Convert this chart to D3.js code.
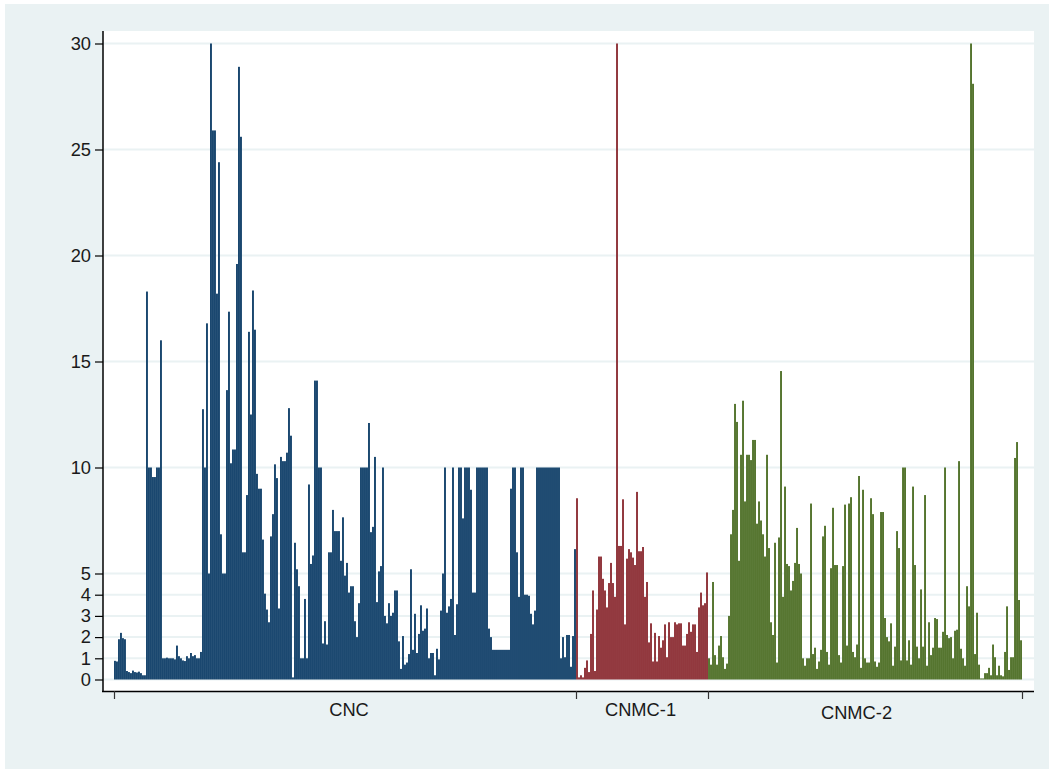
<!DOCTYPE html>
<html><head><meta charset="utf-8">
<script src="https://cdn.jsdelivr.net/npm/d3@7/dist/d3.min.js"></script>
<style>html,body{margin:0;padding:0;background:#fff}svg{display:block}text{font-family:"Liberation Sans",Arial,sans-serif;fill:#1a1a1a}</style>
</head><body><div id="c"></div>
<script>
const yTicks=[0,1,2,3,4,5,10,15,20,25,30];
const groupNames=["CNC","CNMC-1","CNMC-2"];
const cnc=[.88,.85,1.9,2.2,1.95,1.9,.4,.35,.3,.42,.35,.33,.37,.3,.2,.2,18.3,10,10,9.55,9.55,10,10,16,1,1,1.03,1,1,1,.95,1.6,1.1,1,.9,.87,1.1,1,1.25,1.1,1.15,1,1,1.3,12.75,10,16.8,5,30,25.9,25.9,18.2,24.4,6.85,5,5,13.65,17.35,10.2,10.85,10.85,19.6,28.9,25.6,6,6,8.7,16.4,12.5,18.35,16.5,9.7,9,9,6.6,4.05,3.3,2.7,
6.75,7.8,10.15,9.5,3.35,10.5,10.3,10.3,10.7,12.8,11.5,.1,6.45,5.2,4.4,1,1,3.8,1,9.2,5.45,5.85,14.1,14.1,10,10,1.7,2.75,1.65,6,6,8,7,7,7,5.6,7.65,4.9,5.5,4.1,4.4,4.4,2.75,2,3.6,10,10,10,10,12.1,6.95,7.2,10.5,3.65,5.1,5.35,10,3,2.65,3.6,3,3.15,4.2,4.2,1.8,.5,2.05,.7,.8,1.2,5.2,1.4,3.1,1.25,2.15,3.5,2.3,2.4,3.35,1,1.25,1.25,.2,
1.45,.95,3.25,5,10,3.15,3.45,3.8,10,2.1,3.55,10,10,7.6,10,10,10,8.95,4.1,4.1,10,10,10,10,10,10,2.4,2,1.4,1.4,1.4,1.4,1.4,1.4,1.4,1.4,1.4,9,10,10,6,3.9,10,10,4,4,3.95,3.1,2.6,3.25,10,10,10,10,10,10,10,10,10,10,10,10,1,2,1.05,2.1,2.1,.6,2.05,6.15];
const cnmc1=[8.55,.1,.2,.1,.55,.9,.35,2.15,4.2,.4,3.3,5.8,5.8,4.75,4.2,3.4,4.55,5.5,4.55,3.9,30,6.3,6.3,8.5,2.6,5.7,6.15,6,5.75,5.4,8.85,6.05,6.05,6.25,3.9,4.6,1.75,2.65,.85,2.2,.85,2.05,1.5,1.85,2.6,1.05,2.7,2,2,2.7,2.6,2.65,2.65,1.6,1.6,2.15,2.7,2.25,2.6,2.6,1.3,3.4,4.1,3.5,3.6,5.05];
const cnmc2=[1,.7,4.6,1.15,.7,1.6,2.05,1.05,.5,.75,3,6.85,8,13,12.15,5.6,10.6,13.15,8.4,10.6,10.6,10.35,11.3,11.3,7.35,8.4,7.5,6.85,5.8,10.6,6.2,2.7,2.1,6.45,.8,6.7,14.55,3.9,9.1,5.45,5.35,4.2,4.65,5.5,7.15,5.45,5,1,.65,1,1,8.3,1.2,1.5,.5,.85,1.4,6.75,7.25,1.3,.7,5.25,8.1,5.4,5.4,1.15,.8,5.35,8.25,1.6,8.3,8.6,1.3,1.05,1.65,9.6,.55,8.95,1,.8,.8,8.55,7.8,.85,
.6,.8,7.9,7.9,2.9,2,1.8,2.65,.65,1.55,7,6.2,.9,10,10,.9,1.85,.7,9.1,5.4,1.55,1,4.25,1.55,8.7,.65,2.7,1.15,1.5,2.9,2.85,1.5,1.5,2.25,10,2.1,1.95,2,1,2.3,2.35,10.3,1.45,1,.65,4.4,3.45,30,28.1,1.2,3.15,.7,.05,.05,.3,.3,.55,.2,1.65,1.05,.2,.65,.2,.15,1.3,3.45,.45,1.05,1.05,10.45,11.2,3.75,1.85];
const seriesColors=["#1a476f","#90353b","#55752f"];
const W=1049,H=769;
const svg=d3.select("#c").append("svg").attr("width",W).attr("height",H);
svg.append("rect").attr("x",5).attr("y",4).attr("width",W-5).attr("height",H-4).attr("fill","#eaf2f3");
svg.append("rect").attr("x",103).attr("y",31).attr("width",931).attr("height",660).attr("fill","#fff");
const all=[cnc,cnmc1,cnmc2];
const flat=all.flatMap((a,g)=>a.map(v=>({v,g})));
flat.forEach((d,i)=>d.i=i);
const x=d3.scaleBand().domain(d3.range(flat.length)).range([114,114+2*flat.length]).paddingInner(0.03).paddingOuter(0);
const y=d3.scaleLinear().domain([0,30]).range([679.5,43.5]);
svg.append("g").selectAll("line").data(yTicks).join("line")
 .attr("x1",103).attr("x2",1034).attr("y1",d=>y(d)).attr("y2",d=>y(d)).attr("stroke","#eaf2f3").attr("stroke-width",2);
svg.append("g").selectAll("rect").data(flat).join("rect")
 .attr("x",d=>x(d.i)).attr("width",x.bandwidth()).attr("y",d=>y(d.v)).attr("height",d=>y(0)-y(d.v)).attr("fill",d=>seriesColors[d.g]);
const yAxis=d3.axisLeft(y).tickValues(yTicks).tickFormat(d3.format("d")).tickSize(8).tickPadding(4);
const gy=svg.append("g").attr("transform","translate(103,0)").call(yAxis);
gy.select(".domain").remove();
gy.selectAll("line").attr("stroke","#000").attr("stroke-width",1.2);
gy.selectAll("text").attr("font-size",18.3).style("font-family",'"Liberation Sans"');
svg.append("line").attr("x1",103).attr("x2",103).attr("y1",31).attr("y2",692).attr("stroke","#000").attr("stroke-width",1.5);
svg.append("line").attr("x1",102).attr("x2",1034).attr("y1",691.5).attr("y2",691.5).attr("stroke","#000").attr("stroke-width",1.5);
const edges=[0,cnc.length,cnc.length+cnmc1.length,flat.length];
const ex=d3.scaleLinear().domain([0,flat.length]).range([114.5,114.5+2*flat.length]);
svg.append("g").selectAll("line").data(edges).join("line").attr("x1",d=>ex(d)).attr("x2",d=>ex(d)).attr("y1",691).attr("y2",699).attr("stroke","#333").attr("stroke-width",1.2);
const labelX=[349,640.5,856.5],labelY=[716,716,718.5];
svg.append("g").selectAll("text").data(groupNames).join("text").attr("x",(d,i)=>labelX[i]).attr("y",(d,i)=>labelY[i]).attr("text-anchor","middle").attr("font-size",18.3).text(d=>d);
</script></body></html>
